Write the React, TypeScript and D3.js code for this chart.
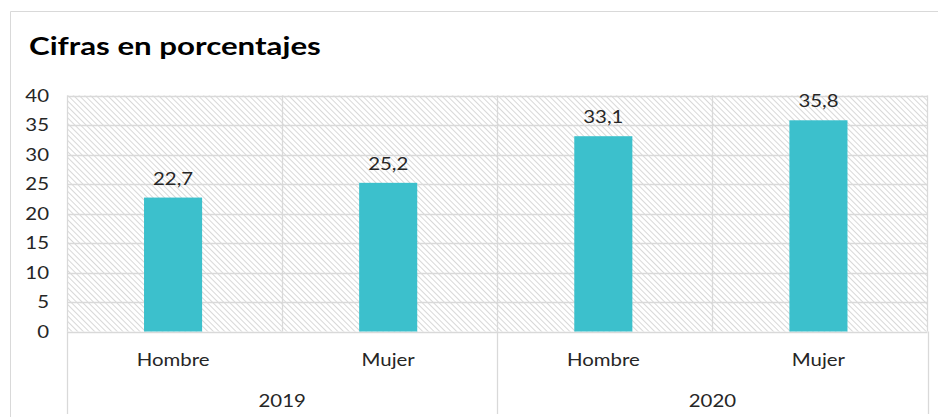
import React from "react";
import * as d3 from "d3";

const years = ["2019", "2020"];
const genders = ["Hombre", "Mujer"];
const values = [22.7, 25.2, 33.1, 35.8];
const yTicks = [0, 5, 10, 15, 20, 25, 30, 35, 40];
const title = "Cifras en porcentajes";

const W = 938;
const H = 417;
const plot = { left: 67, right: 927.5, top: 95.5, bottom: 331.5 };
const BAR_COLOR = "#3CC0CC";
const GRID = "#d9d9d9";
const TEXT = "#262626";
const FONT = "Lato, 'Open Sans', sans-serif";
const SX = 1.2;

function SText({ x, y, anchor = "start", size = 17, weight = 400, fill = TEXT, sx = SX, children }: any) {
  return (
    <text
      transform={`translate(${x},${y}) scale(${sx},1)`}
      textAnchor={anchor}
      fontFamily={FONT}
      fontSize={size}
      fontWeight={weight}
      fill={fill}
    >
      {children}
    </text>
  );
}

export default function App() {
  const cats = years.flatMap((y) => genders.map((g) => `${y}|${g}`));
  const x = d3.scaleBand<string>().domain(cats).range([plot.left, plot.right]).paddingInner(0).paddingOuter(0);
  const yearScale = d3.scaleBand<string>().domain(years).range([plot.left, plot.right]);
  const y = d3.scaleLinear().domain([0, 40]).range([plot.bottom, plot.top]);
  const bw = x.bandwidth() * 0.27;
  const fmt = (v: number) => d3.format(".1f")(v).replace(".", ",");

  return (
    <div style={{ position: "absolute", left: 0, top: 0, margin: 0 }}>
      <svg width={W} height={H} style={{ display: "block" }}>
        <defs>
          <pattern id="hatch" width="4" height="4" patternUnits="userSpaceOnUse" patternTransform="rotate(-45)">
            <rect width="4" height="4" fill="#ffffff" />
            <line x1="0" y1="0" x2="0" y2="4" stroke="#cfcfcf" strokeWidth="1.6" />
          </pattern>
        </defs>
        <rect width={W} height={H} fill="#fff" />
        <line x1={10.5} y1={11.5} x2={W} y2={11.5} stroke={GRID} />
        <line x1={10.5} y1={11.5} x2={10.5} y2={H} stroke={GRID} />
        <SText x={29} y={55} size={25} weight={700} fill="#000" sx={1.25}>
          {title}
        </SText>
        <rect x={plot.left} y={plot.top} width={plot.right - plot.left} height={plot.bottom - plot.top} fill="url(#hatch)" />
        {yTicks.map((t) => (
          <line key={t} x1={plot.left} x2={plot.right} y1={Math.round(y(t)) + 0.5} y2={Math.round(y(t)) + 0.5} stroke={GRID} strokeWidth={1.3} />
        ))}
        {cats.map((c) => (
          <line key={c} x1={Math.round(x(c)!) + 0.5} x2={Math.round(x(c)!) + 0.5} y1={plot.top} y2={plot.bottom} stroke={GRID} strokeWidth={1.3} />
        ))}
        <line x1={plot.right} x2={plot.right} y1={plot.top} y2={plot.bottom} stroke={GRID} strokeWidth={1.3} />
        {[...years.map((yr) => yearScale(yr)!), plot.right].map((xx, i) => (
          <line key={i} x1={Math.round(xx) + 0.5} x2={Math.round(xx) + 0.5} y1={plot.bottom} y2={414} stroke={GRID} strokeWidth={1.3} />
        ))}
        {cats.map((c, i) => {
          const cx = x(c)! + x.bandwidth() / 2 - 1.5;
          return (
            <g key={c}>
              <rect x={cx - bw / 2} y={y(values[i])} width={bw} height={plot.bottom - y(values[i])} fill={BAR_COLOR} />
              <SText x={cx} y={y(values[i]) - 13} anchor="middle">
                {fmt(values[i])}
              </SText>
              <SText x={cx} y={366} anchor="middle">
                {c.split("|")[1]}
              </SText>
            </g>
          );
        })}
        {years.map((yr) => (
          <SText key={yr} x={yearScale(yr)! + yearScale.bandwidth() / 2} y={407} anchor="middle">
            {yr}
          </SText>
        ))}
        {yTicks.map((t) => (
          <SText key={t} x={49} y={y(t) + 6} anchor="end">
            {t}
          </SText>
        ))}
      </svg>
    </div>
  );
}
